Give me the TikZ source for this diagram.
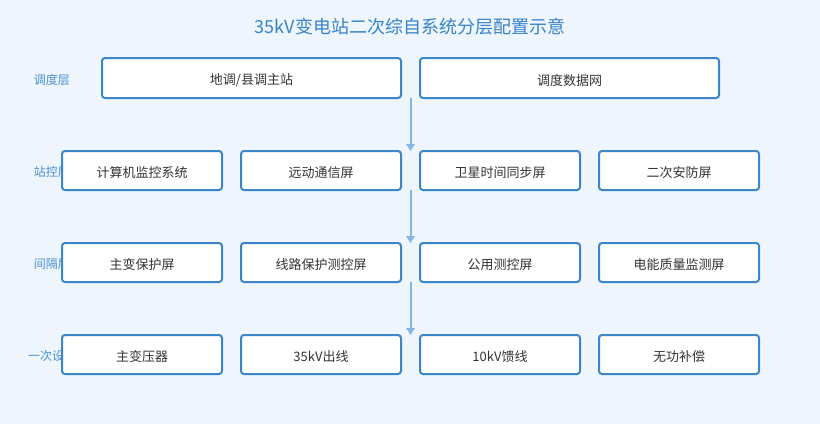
\documentclass[tikz,border=0pt]{standalone}
\usepackage{fontspec}
\setmainfont{Noto Sans CJK SC}
\usetikzlibrary{arrows.meta,calc}
\definecolor{bg}{HTML}{EEF5FC}
\definecolor{bord}{HTML}{3A86C8}
\definecolor{titlec}{HTML}{3784C8}
\definecolor{lab}{HTML}{4A91D2}
\definecolor{arr}{HTML}{85B8E0}
\definecolor{txt}{HTML}{333333}
\tikzset{
  box/.style={draw=bord, line width=2pt, fill=white, rounded corners=3pt},
  boxtext/.style={text=txt, font=\fontsize{13pt}{15pt}\selectfont, inner sep=0pt},
  layer/.style={text=lab, font=\fontsize{12pt}{14pt}\selectfont, inner sep=0pt},
  flow/.style={draw=arr, line width=2pt, -{Triangle[length=7pt,width=8.5pt]}},
}
\begin{document}
\begin{tikzpicture}[x=1pt,y=-1pt]
\fill[bg] (0,0) rectangle (820,424);
\useasboundingbox (0,0) rectangle (820,424);
\node[text=titlec, font=\fontsize{18pt}{21pt}\selectfont, inner sep=0pt] (title) at (410,27) {35kV变电站二次综自系统分层配置示意};
% layer labels
\node[layer] (l1) at (52,80) {调度层};
\node[layer] (l2) at (52,172) {站控层};
\node[layer] (l3) at (52,264) {间隔层};
\node[layer] (l4) at (52,356) {一次设备};
% boxes row 1
\draw[box] (102,58) rectangle (401,98);
\draw[box] (420,58) rectangle (719,98);
\node[boxtext] (b11) at (251.5,80.5) {地调/县调主站};
\node[boxtext] (b12) at (569.5,80.5) {调度数据网};
% rows 2-4
\foreach \y/\a/\b/\c/\d [count=\r from 2] in {
  151/计算机监控系统/远动通信屏/卫星时间同步屏/二次安防屏,
  243/主变保护屏/线路保护测控屏/公用测控屏/电能质量监测屏,
  335/主变压器/35kV出线/10kV馈线/无功补偿}{
  \draw[box] (62,\y) rectangle (222,\y+39);
  \draw[box] (241,\y) rectangle (401,\y+39);
  \draw[box] (420,\y) rectangle (580,\y+39);
  \draw[box] (599,\y) rectangle (759,\y+39);
  \node[boxtext] (b\r1) at (142,\y+22) {\a};
  \node[boxtext] (b\r2) at (321,\y+22) {\b};
  \node[boxtext] (b\r3) at (500,\y+22) {\c};
  \node[boxtext] (b\r4) at (679,\y+22) {\d};
}
% arrows
\coordinate (a1) at (410.5,98);
\coordinate (a2) at (410.5,151);
\coordinate (a3) at (410.5,190);
\coordinate (a4) at (410.5,243);
\coordinate (a5) at (410.5,282);
\coordinate (a6) at (410.5,335);
\draw[flow] (a1) -- (a2);
\draw[flow] (a3) -- (a4);
\draw[flow] (a5) -- (a6);
\end{tikzpicture}
\end{document}
